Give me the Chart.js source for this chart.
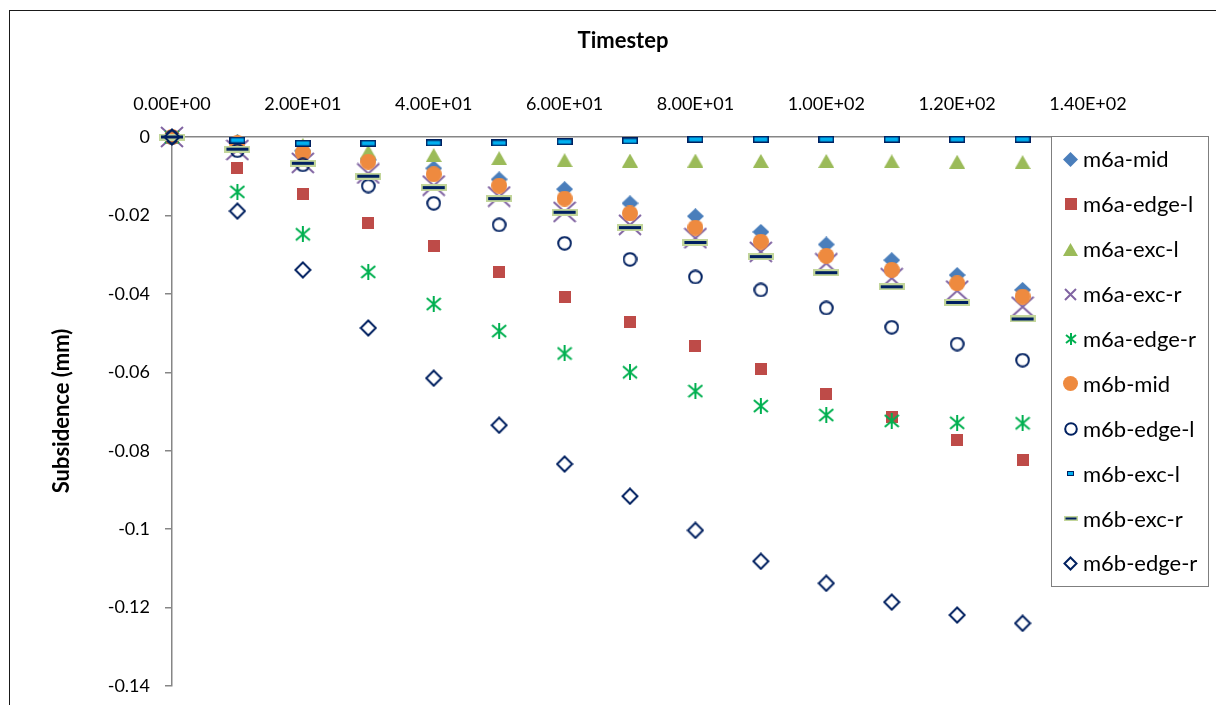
<!DOCTYPE html>
<html>
<head>
<meta charset="utf-8">
<script src="https://cdn.jsdelivr.net/npm/chart.js@4.4.1/dist/chart.umd.min.js"></script>
<style>
  body { margin: 0; background: #fff; }
  #wrap { width: 1216px; height: 705px; }
</style>
</head>
<body>
<div id="wrap"><canvas id="subsidenceChart" width="1216" height="705"></canvas></div>
<script>
// timesteps (x) and subsidence per series (mm)
const timesteps = [0, 10, 20, 30, 40, 50, 60, 70, 80, 90, 100, 110, 120, 130];

const m6aMid   = [0, -0.0013, -0.0035, -0.0058, -0.0080, -0.0108, -0.0133, -0.0169, -0.0202, -0.0242, -0.0274, -0.0314, -0.0352, -0.0390];
const m6aEdgeL = [0, -0.0078, -0.0145, -0.0219, -0.0278, -0.0344, -0.0407, -0.0471, -0.0533, -0.0592, -0.0655, -0.0714, -0.0773, -0.0824];
const m6aExcL  = [0, -0.0010, -0.0020, -0.0037, -0.0046, -0.0054, -0.0059, -0.0060, -0.0060, -0.0061, -0.0061, -0.0062, -0.0063, -0.0064];
const m6aExcR  = [0, -0.0033, -0.0066, -0.0093, -0.0124, -0.0152, -0.0191, -0.0224, -0.0258, -0.0293, -0.0322, -0.0360, -0.0392, -0.0433];
const m6aEdgeR = [0, -0.0140, -0.0248, -0.0344, -0.0426, -0.0495, -0.0552, -0.0600, -0.0648, -0.0686, -0.0709, -0.0724, -0.0729, -0.0730];
const m6bMid   = [0, -0.0016, -0.0040, -0.0063, -0.0095, -0.0124, -0.0157, -0.0195, -0.0231, -0.0267, -0.0303, -0.0339, -0.0373, -0.0407];
const m6bEdgeL = [0, -0.0035, -0.0071, -0.0125, -0.0169, -0.0224, -0.0271, -0.0312, -0.0357, -0.0390, -0.0436, -0.0485, -0.0528, -0.0569];
const m6bExcL  = [0, -0.0008, -0.0016, -0.0016, -0.0015, -0.0015, -0.0012, -0.0010, -0.0006, -0.0006, -0.0006, -0.0006, -0.0006, -0.0006];
const m6bExcR  = [0, -0.0031, -0.0067, -0.0100, -0.0129, -0.0157, -0.0192, -0.0231, -0.0269, -0.0305, -0.0346, -0.0382, -0.0422, -0.0464];
const m6bEdgeR = [0, -0.0189, -0.0339, -0.0487, -0.0615, -0.0735, -0.0834, -0.0916, -0.1003, -0.1082, -0.1138, -0.1186, -0.1219, -0.1240];

const seriesNames = ["m6a-mid", "m6a-edge-l", "m6a-exc-l", "m6a-exc-r", "m6a-edge-r",
                     "m6b-mid", "m6b-edge-l", "m6b-exc-l", "m6b-exc-r", "m6b-edge-r"];
const seriesValues = [m6aMid, m6aEdgeL, m6aExcL, m6aExcR, m6aEdgeR,
                      m6bMid, m6bEdgeL, m6bExcL, m6bExcR, m6bEdgeR];

const xTickValues = [0, 20, 40, 60, 80, 100, 120, 140];
const xTickLabels = ["0.00E+00", "2.00E+01", "4.00E+01", "6.00E+01", "8.00E+01", "1.00E+02", "1.20E+02", "1.40E+02"];
const yTickValues = [0, -0.02, -0.04, -0.06, -0.08, -0.1, -0.12, -0.14];
const yTickLabels = ["0", "-0.02", "-0.04", "-0.06", "-0.08", "-0.1", "-0.12", "-0.14"];

const FONT = "Lato, 'Open Sans', sans-serif";
const navy = "#002060";

// little canvases used as marker images
function makeCanvas(w, h, draw) {
    const c = document.createElement("canvas");
    c.width = w;
    c.height = h;
    draw(c.getContext("2d"), w, h);
    return c;
}

function diamond(w, h, fill, stroke) {
    return makeCanvas(w, h, (ctx) => {
        const p = stroke ? 1.5 : 0;
        ctx.beginPath();
        ctx.moveTo(w / 2, p);
        ctx.lineTo(w - p, h / 2);
        ctx.lineTo(w / 2, h - p);
        ctx.lineTo(p, h / 2);
        ctx.closePath();
        if (fill) { ctx.fillStyle = fill; ctx.fill(); }
        if (stroke) { ctx.strokeStyle = stroke; ctx.lineWidth = 2; ctx.stroke(); }
    });
}

function square(s, fill) {
    return makeCanvas(s, s, (ctx) => {
        ctx.fillStyle = fill;
        ctx.fillRect(0, 0, s, s);
    });
}

function triangle(w, h, fill) {
    return makeCanvas(w, h, (ctx) => {
        ctx.fillStyle = fill;
        ctx.beginPath();
        ctx.moveTo(w / 2, 0);
        ctx.lineTo(w, h);
        ctx.lineTo(0, h);
        ctx.closePath();
        ctx.fill();
    });
}

function cross(w, h, color) {
    return makeCanvas(w, h, (ctx) => {
        ctx.strokeStyle = color;
        ctx.lineWidth = 2;
        ctx.beginPath();
        ctx.moveTo(1, 1); ctx.lineTo(w - 1, h - 1);
        ctx.moveTo(w - 1, 1); ctx.lineTo(1, h - 1);
        ctx.stroke();
    });
}

function asterisk(s, color) {
    return makeCanvas(s, s, (ctx) => {
        ctx.strokeStyle = color;
        ctx.lineWidth = 2;
        ctx.beginPath();
        ctx.moveTo(s / 2, 0); ctx.lineTo(s / 2, s);
        ctx.moveTo(1, 2); ctx.lineTo(s - 1, s - 2);
        ctx.moveTo(s - 1, 2); ctx.lineTo(1, s - 2);
        ctx.stroke();
    });
}

function circle(d, fill, stroke) {
    return makeCanvas(d, d, (ctx) => {
        ctx.beginPath();
        ctx.arc(d / 2, d / 2, stroke ? d / 2 - 1.2 : d / 2, 0, Math.PI * 2);
        if (fill) { ctx.fillStyle = fill; ctx.fill(); }
        if (stroke) { ctx.strokeStyle = stroke; ctx.lineWidth = 2; ctx.stroke(); }
    });
}

function rectMarker(w, h, fill, stroke, lw) {
    return makeCanvas(w, h, (ctx) => {
        ctx.fillStyle = stroke;
        ctx.fillRect(0, 0, w, h);
        ctx.fillStyle = fill;
        ctx.fillRect(lw, lw, w - 2 * lw, h - 2 * lw);
    });
}

const plotMarkers = [
    diamond(17, 16, "#4A7EBB"),
    square(12, "#BE4B48"),
    triangle(16, 14, "#9BBB59"),
    cross(24, 22, "#8064A2"),
    asterisk(16, "#00B050"),
    circle(16, "#EE8A3F"),
    circle(15, null, navy),
    rectMarker(16, 7, "#00B0F0", navy, 1.5),
    rectMarker(26, 7, navy, "#C3D69B", 2),
    diamond(18, 18, null, navy)
];

const legendMarkers = [
    diamond(15, 15, "#4A7EBB"),
    square(12, "#BE4B48"),
    triangle(15, 13, "#9BBB59"),
    cross(13, 13, "#8064A2"),
    asterisk(12, "#00B050"),
    circle(15, "#EE8A3F"),
    circle(14, null, navy),
    rectMarker(7, 5, "#00B0F0", navy, 1),
    rectMarker(14, 5, navy, "#C3D69B", 1.5),
    diamond(15, 15, null, navy)
];

const datasets = seriesNames.map((name, i) => ({
    label: name,
    data: timesteps.map((t, k) => ({ x: t, y: seriesValues[i][k] })),
    pointStyle: plotMarkers[i],
    pointRadius: 8,
    showLine: false,
    clip: false,
    order: seriesNames.length - i // later series drawn on top, like Excel
}));

function lookupLabel(values, labels, v) {
    const idx = values.findIndex(t => Math.abs(t - v) < 1e-9);
    return idx >= 0 ? labels[idx] : "";
}

// white background, outer frame and the two axis titles
const framePlugin = {
    id: "frame",
    beforeDraw(chart) {
        const ctx = chart.ctx;
        ctx.save();
        ctx.fillStyle = "#fff";
        ctx.fillRect(0, 0, chart.width, chart.height);
        ctx.strokeStyle = "#1a1a1a";
        ctx.lineWidth = 1;
        ctx.strokeRect(9.5, 10.5, 1400, 900);
        ctx.restore();
    },
    afterDraw(chart) {
        const ctx = chart.ctx;
        ctx.save();
        ctx.fillStyle = "#000";
        ctx.font = "bold 22px " + FONT;
        ctx.textAlign = "center";
        ctx.textBaseline = "middle";
        ctx.fillText("Timestep", 623, 41);
        ctx.translate(62, 411);
        ctx.rotate(-Math.PI / 2);
        ctx.fillText("Subsidence (mm)", 0, 0);
        ctx.restore();
    }
};

// Excel style legend box sitting over the plot area
const legendPlugin = {
    id: "boxLegend",
    afterDraw(chart) {
        const ctx = chart.ctx;
        const left = 1051, top = 136, w = 157, h = 450;
        ctx.save();
        ctx.fillStyle = "#fff";
        ctx.fillRect(left, top, w, h);
        ctx.strokeStyle = "#7f7f7f";
        ctx.lineWidth = 1;
        ctx.strokeRect(left + 0.5, top + 0.5, w, h);
        ctx.font = "22px " + FONT;
        ctx.fillStyle = "#000";
        ctx.textBaseline = "middle";
        seriesNames.forEach((name, i) => {
            const y = 159.3 + i * 44.9;
            const m = legendMarkers[i];
            ctx.drawImage(m, Math.round(1070.5 - m.width / 2), Math.round(y - m.height / 2));
            ctx.fillText(name, 1083, y + 1);
        });
        ctx.restore();
    }
};

const ctx = document.getElementById("subsidenceChart").getContext("2d");
const chart = new Chart(ctx, {
    type: "scatter",
    data: { datasets: datasets },
    options: {
        responsive: false,
        animation: false,
        layout: { padding: { left: 10, top: 10, right: 128, bottom: 19 } },
        plugins: {
            legend: { display: false },
            tooltip: { enabled: false }
        },
        scales: {
            x: {
                type: "linear",
                position: "top",
                min: 0,
                max: 140,
                afterFit: (scale) => { scale.height = 127; },
                ticks: {
                    stepSize: 20,
                    padding: 22,
                    maxRotation: 0,
                    color: "#000",
                    font: { family: FONT, size: 18 },
                    callback: (v) => lookupLabel(xTickValues, xTickLabels, v)
                },
                grid: { display: false, drawTicks: false },
                border: { display: true, color: "#868686", width: 1.5 }
            },
            y: {
                type: "linear",
                min: -0.14,
                max: 0,
                afterFit: (scale) => {
                    scale.width = 162;
                    scale.paddingTop = 0;
                    scale.paddingBottom = 0;
                },
                ticks: {
                    stepSize: 0.02,
                    padding: 15,
                    color: "#000",
                    font: { family: FONT, size: 18 },
                    callback: (v) => lookupLabel(yTickValues, yTickLabels, v)
                },
                grid: { drawOnChartArea: false, drawTicks: true, tickLength: 7, color: "#868686", lineWidth: 1.5 },
                border: { display: true, color: "#868686", width: 1.5 }
            }
        }
    },
    plugins: [framePlugin, legendPlugin]
});
</script>
</body>
</html>
